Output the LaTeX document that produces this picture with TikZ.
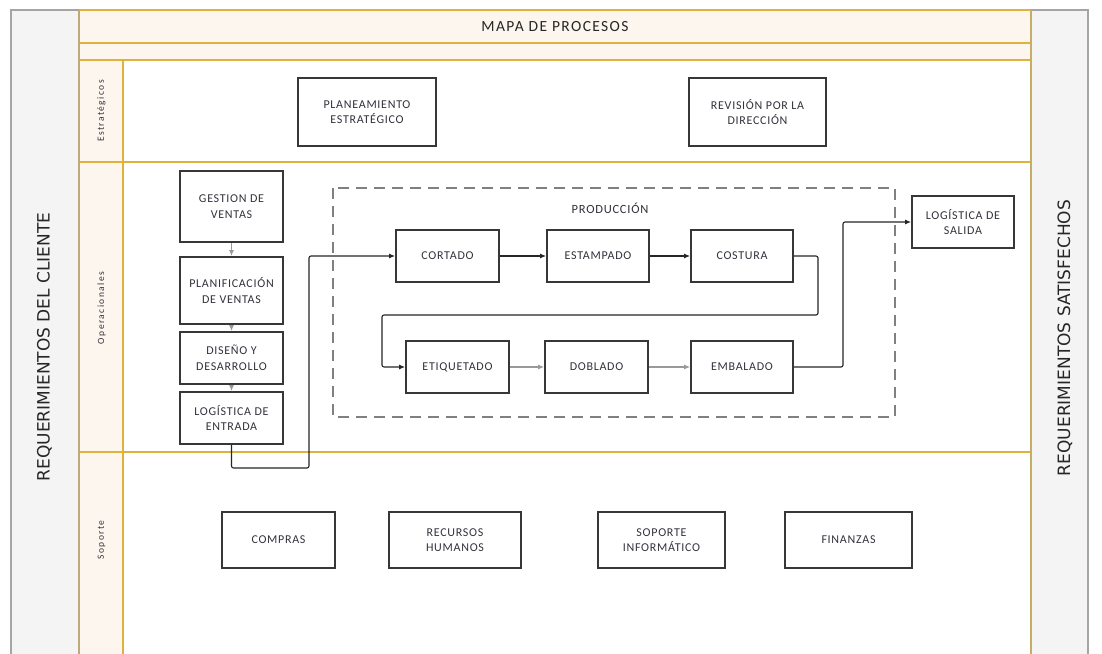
\documentclass[tikz,border=0pt]{standalone}
\usepackage{fontspec}
\setmainfont{Carlito}
\newfontfamily\boxfont[LetterSpace=6]{Carlito}
\newfontfamily\headfont[LetterSpace=9]{Carlito}
\newfontfamily\sidefont{DejaVu Sans}
\newfontfamily\lanefont[LetterSpace=15]{Carlito}
\usetikzlibrary{arrows.meta}
\definecolor{gold}{RGB}{224,178,60}
\definecolor{cream}{RGB}{253,246,238}
\definecolor{sidegray}{RGB}{244,244,244}
\definecolor{sideline}{RGB}{165,165,165}
\definecolor{boxline}{RGB}{55,55,55}
\definecolor{txt}{RGB}{50,50,60}
\tikzset{
  box/.style={draw=boxline, line width=1.8pt, fill=white, align=center, text=txt,
    font=\boxfont\fontsize{12}{15.5}\selectfont, inner sep=1pt},
  flow/.style={draw=black!85, line width=1.1pt, rounded corners=2pt,
    -{Latex[length=6pt,width=5pt]}},
  gflow/.style={draw=black!40, line width=1.1pt,
    -{Latex[length=6pt,width=5pt]}},
  goldline/.style={draw=gold, line width=1.6pt},
  lanelabel/.style={rotate=90, text=txt, font=\lanefont\fontsize{9.5}{11}\selectfont},
  sidelabel/.style={rotate=90, text=black!85, font=\sidefont\fontsize{17}{20}\selectfont}
}
\begin{document}
\begin{tikzpicture}[x=1pt,y=-1pt]
\useasboundingbox (0,0) rectangle (1102,653);
\fill[white] (0,0) rectangle (1102,653);
% side columns
\filldraw[fill=sidegray, draw=sideline, line width=1.5pt] (11,10) rectangle (79,660);
\filldraw[fill=sidegray, draw=sideline, line width=1.5pt] (1031,10) rectangle (1088,660);
% header bands
\fill[cream] (79,10) rectangle (1031,60);
% lane label column
\fill[cream] (79,60) rectangle (123,660);
% gold lines
\draw[goldline] (79,10) -- (1031,10);
\draw[goldline] (79,43) -- (1031,43);
\draw[goldline] (79,60) -- (1031,60);
\draw[goldline] (79,162) -- (1031,162);
\draw[goldline] (79,452) -- (1031,452);
\draw[goldline] (123,60) -- (123,660);
\draw[draw=gold!60!sideline, line width=1.5pt] (1031,10) -- (1031,660);
\draw[draw=gold!40!sideline, line width=1.5pt] (79,10) -- (79,660);
% titles
\node[font=\headfont\fontsize{15.5}{18}\selectfont, text=black!85] (title) at (555,27) {MAPA DE PROCESOS};
\node[sidelabel] (cli) at (44.5,347) {REQUERIMIENTOS DEL CLIENTE};
\node[sidelabel] (sat) at (1065,338) {REQUERIMIENTOS SATISFECHOS};
\node[lanelabel] (l1) at (101.5,111) {Estratégicos};
\node[lanelabel] (l2) at (101.5,308) {Operacionales};
\node[lanelabel] (l3) at (101.5,540) {Soporte};
% dashed production area
\draw[draw=black!50, line width=1.6pt, dash pattern=on 11pt off 7pt] (333,188) rectangle (895,417);
\node[font=\boxfont\fontsize{12.5}{15}\selectfont, text=txt] (prod) at (610,208) {PRODUCCIÓN};
% strategic
\node[box, minimum width=138, minimum height=68] (plan) at (367,112) {PLANEAMIENTO\\ESTRATÉGICO};
\node[box, minimum width=137, minimum height=68] (rev) at (757.5,112) {REVISIÓN POR LA\\DIRECCIÓN};
% operational left column
\node[box, minimum width=103, minimum height=71] (gest) at (231.5,206.5) {GESTION DE\\VENTAS};
\node[box, minimum width=103, minimum height=67] (planif) at (231.5,290.5) {PLANIFICACIÓN\\DE VENTAS};
\node[box, minimum width=103, minimum height=52] (dis) at (231.5,358) {DISEÑO Y\\DESARROLLO};
\node[box, minimum width=103, minimum height=52] (loge) at (231.5,418) {LOGÍSTICA DE\\ENTRADA};
% production
\node[box, minimum width=103, minimum height=52] (cort) at (447.5,256) {CORTADO};
\node[box, minimum width=102, minimum height=52] (est) at (598,256) {ESTAMPADO};
\node[box, minimum width=102, minimum height=52] (cos) at (742,256) {COSTURA};
\node[box, minimum width=103, minimum height=52] (etq) at (457.5,367) {ETIQUETADO};
\node[box, minimum width=103, minimum height=52] (dob) at (596.5,367) {DOBLADO};
\node[box, minimum width=102, minimum height=52] (emb) at (742,367) {EMBALADO};
\node[box, minimum width=102, minimum height=52] (sal) at (963,222) {LOGÍSTICA DE\\SALIDA};
% support
\node[box, minimum width=113, minimum height=56] (comp) at (278.5,540) {COMPRAS};
\node[box, minimum width=132, minimum height=56] (rrhh) at (455,540) {RECURSOS\\HUMANOS};
\node[box, minimum width=127, minimum height=56] (sop) at (661.5,540) {SOPORTE\\INFORMÁTICO};
\node[box, minimum width=127, minimum height=56] (fin) at (848.5,540) {FINANZAS};
% connectors
\draw[gflow] (gest) -- (planif);
\draw[gflow] (planif) -- (dis);
\draw[gflow] (dis) -- (loge);
\draw[flow] (loge.south) |- (309,468) |- (cort.west);
\draw[flow] (cort) -- (est);
\draw[flow] (est) -- (cos);
\draw[flow] (cos.east) -| (818,315) -| (382,340) |- (etq.west);
\draw[gflow] (etq) -- (dob);
\draw[gflow] (dob) -- (emb);
\draw[flow] (emb.east) -| (843,250) |- (sal.west);
\end{tikzpicture}
\end{document}
